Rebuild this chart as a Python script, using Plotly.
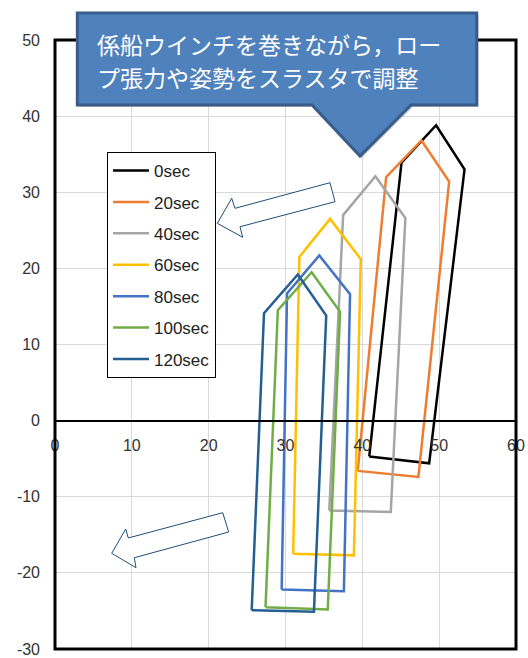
import plotly.graph_objects as go

# ---- data ----
series_names = ["0sec", "20sec", "40sec", "60sec", "80sec", "100sec", "120sec"]
series_colors = ["#000000", "#ED7D31", "#A5A5A5", "#FFC000", "#4472C4", "#70AD47", "#255E91"]

x_0sec = [40.9, 45.1, 49.6, 53.3, 48.7, 40.9]
y_0sec = [-4.7, 33.9, 38.8, 33.0, -5.6, -4.7]
x_20sec = [39.4, 43.1, 47.7, 51.3, 47.3, 39.4]
y_20sec = [-6.6, 32.0, 36.8, 31.4, -7.4, -6.6]
x_40sec = [35.7, 37.5, 41.7, 45.6, 43.7, 35.7]
y_40sec = [-11.8, 27.0, 32.1, 26.6, -12.0, -11.8]
x_60sec = [31.0, 31.8, 35.8, 39.8, 38.9, 31.0]
y_60sec = [-17.5, 21.5, 26.5, 21.2, -17.7, -17.5]
x_80sec = [29.5, 30.2, 34.4, 38.4, 37.6, 29.5]
y_80sec = [-22.2, 16.7, 21.7, 16.6, -22.4, -22.2]
x_100sec = [27.4, 29.0, 33.4, 37.1, 35.5, 27.4]
y_100sec = [-24.5, 14.5, 19.5, 14.3, -24.8, -24.5]
x_120sec = [25.6, 27.2, 31.6, 35.3, 33.7, 25.6]
y_120sec = [-24.9, 14.1, 19.2, 13.8, -25.1, -24.9]

xs = [x_0sec, x_20sec, x_40sec, x_60sec, x_80sec, x_100sec, x_120sec]
ys = [y_0sec, y_20sec, y_40sec, y_60sec, y_80sec, y_100sec, y_120sec]

x_ticks = [0, 10, 20, 30, 40, 50, 60]
y_ticks = [-30, -20, -10, 0, 10, 20, 30, 40, 50]

callout_line1 = "係船ウインチを巻きながら，ロー"
callout_line2 = "プ張力や姿勢をスラスタで調整"

# ---- layout geometry ----
W, H = 528, 658
ML, MR, MT, MB = 55, 12, 40, 9
PW, PH = W - ML - MR, H - MT - MB


def px(xp, yp):
    """pixel -> paper coordinates (for decorative shapes)"""
    return (xp - ML) / PW, (H - MB - yp) / PH


def path_from(points):
    s = []
    for i, (a, b) in enumerate(points):
        u, v = px(a, b)
        s.append(("M" if i == 0 else "L") + f"{u:.4f},{v:.4f}")
    return " ".join(s) + " Z"


fig = go.Figure()
for name, color, xv, yv in zip(series_names, series_colors, xs, ys):
    fig.add_trace(go.Scatter(
        x=xv, y=yv, mode="lines", name=name, legendgroup=name,
        line=dict(color=color, width=2.5),
    ))

tick_font = dict(family="Liberation Sans, Arial, sans-serif", size=16, color="#333333")

fig.update_layout(
    width=W, height=H,
    margin=dict(l=ML, r=MR, t=MT, b=MB, autoexpand=False),
    paper_bgcolor="white", plot_bgcolor="white",
    showlegend=True,
    legend=dict(
        x=px(107, 152)[0], y=px(107, 152)[1], xanchor="left", yanchor="top",
        bordercolor="black", borderwidth=1, bgcolor="white",
        font=dict(family="Liberation Sans, Arial, sans-serif", size=17, color="#222222"),
        traceorder="grouped", tracegroupgap=6.3, itemwidth=36,
    ),
    xaxis=dict(
        range=[0, 60], tickvals=x_ticks, ticktext=[str(v) for v in x_ticks],
        showgrid=True, gridcolor="#D9D9D9", gridwidth=1,
        zeroline=False, showline=True, linecolor="black", linewidth=1.5,
        anchor="free", position=0.375, ticks="", tickfont=tick_font,
        ticklabelstandoff=10, automargin=False,
    ),
    yaxis=dict(
        range=[-30, 50], tickvals=y_ticks, ticktext=[str(v) for v in y_ticks],
        showgrid=True, gridcolor="#D9D9D9", gridwidth=1,
        zeroline=False, showline=False, ticks="", tickfont=tick_font,
        ticklabelstandoff=14, automargin=False,
    ),
)

shapes = []
# plot border
shapes.append(dict(type="rect", xref="paper", yref="paper", x0=0, x1=1, y0=0, y1=1,
                   line=dict(color="black", width=3), layer="above"))

# hollow arrows
arrow1 = [(217.3, 223.3), (231.7, 198.3), (235, 208.3), (330, 182.7), (335, 201.7),
          (240, 226.7), (242.7, 237.3)]
arrow2 = [(111.7, 553.3), (125.7, 529), (128.3, 538), (222.7, 512.7), (228.7, 532),
          (134.3, 557.7), (136, 567.7)]
for pts in (arrow1, arrow2):
    shapes.append(dict(type="path", xref="paper", yref="paper", path=path_from(pts),
                       line=dict(color="#1F4E79", width=1), fillcolor="white", layer="above"))

# callout
callout = [(77.3, 13), (476.7, 13), (476.7, 105), (411, 105), (360, 156), (312, 105), (77.3, 105)]
shadow = [(a + 2, b + 2) for a, b in callout]
shapes.append(dict(type="path", xref="paper", yref="paper", path=path_from(shadow),
                   line=dict(width=0), fillcolor="rgba(0,0,0,0.18)", layer="above"))
shapes.append(dict(type="path", xref="paper", yref="paper", path=path_from(callout),
                   line=dict(color="#385D8A", width=3), fillcolor="#4F81BD", layer="above"))
fig.update_layout(shapes=shapes)

cfont = dict(family="Noto Sans CJK JP", size=23, color="white")
for txt, yc in ((callout_line1, 44), (callout_line2, 77)):
    u, v = px(95, yc)
    fig.add_annotation(x=u, y=v, xref="paper", yref="paper", text=txt, showarrow=False,
                       xanchor="left", yanchor="middle", font=cfont)

fig.write_html("out.html")
